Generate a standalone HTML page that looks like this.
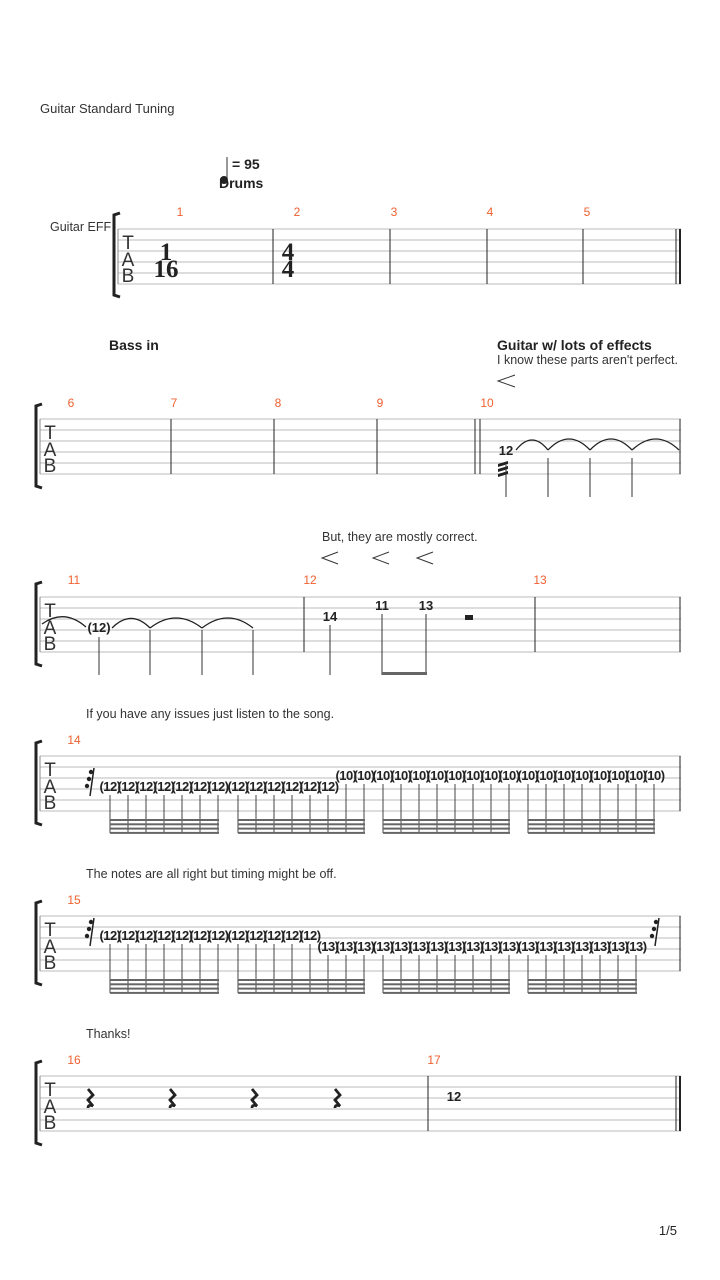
<!DOCTYPE html>
<html><head><meta charset="utf-8"><style>
body{margin:0;background:#fff;}
svg{display:block;font-family:"Liberation Sans",sans-serif;}
.mn{fill:#f06030;font-size:12px;text-anchor:middle}
.tx{fill:#333;font-size:12.5px}
.bd{fill:#222;font-size:14px;font-weight:bold}
.n{fill:#222;font-size:12px;font-weight:bold;text-anchor:middle}
.st line{stroke:#bbb;stroke-width:1}
.bar{stroke:#222;stroke-width:1}
.tab{fill:#333;font-size:19px;text-anchor:middle}
.ts{font-family:'Liberation Serif',serif;font-size:25px;font-weight:bold;text-anchor:middle;fill:#222}
</style></head><body>
<svg width="720" height="1280" viewBox="0 0 720 1280">
<text x="40" y="113" class="tx" style="font-size:13px">Guitar Standard Tuning</text>
<line x1="227" y1="157" x2="227" y2="180" stroke="#333"/>
<circle cx="224" cy="180" r="4" fill="#222"/>
<text x="232" y="169" class="bd">= 95</text>
<text x="219" y="188" class="bd">Drums</text>
<text x="50" y="231" class="tx">Guitar EFF</text>

<!-- System 1 -->
<g class="st"><line x1="118" y1="229" x2="681" y2="229"/><line x1="118" y1="240" x2="681" y2="240"/><line x1="118" y1="251" x2="681" y2="251"/><line x1="118" y1="262" x2="681" y2="262"/><line x1="118" y1="273" x2="681" y2="273"/><line x1="118" y1="284" x2="681" y2="284"/></g>
<path d="M120,213 L114,215 L114,295 L120,297" fill="none" stroke="#222" stroke-width="3"/>
<line x1="118" y1="229" x2="118" y2="284" stroke="#888"/>
<text x="128" y="249" class="tab">T</text><text x="128" y="266" class="tab">A</text><text x="128" y="282" class="tab">B</text>
<text x="166" y="260" class="ts">1</text>
<text x="166" y="277" class="ts">16</text>
<text x="288" y="260" class="ts">4</text>
<text x="288" y="277" class="ts">4</text>
<g class="bar"><line x1="273" y1="229" x2="273" y2="284"/><line x1="390" y1="229" x2="390" y2="284"/><line x1="487" y1="229" x2="487" y2="284"/><line x1="583" y1="229" x2="583" y2="284"/><line x1="676" y1="229" x2="676" y2="284"/><line x1="680" y1="229" x2="680" y2="284" stroke-width="2"/></g>
<text x="180" y="216" class="mn">1</text><text x="297" y="216" class="mn">2</text><text x="394" y="216" class="mn">3</text><text x="490" y="216" class="mn">4</text><text x="587" y="216" class="mn">5</text>

<!-- System 2 -->
<text x="109" y="350" class="bd">Bass in</text>
<text x="497" y="350" class="bd">Guitar w/ lots of effects</text>
<text x="497" y="364" class="tx">I know these parts aren't perfect.</text>
<path d="M515,375 L498,381 L515,387" fill="none" stroke="#333"/>
<g class="st"><line x1="40" y1="419" x2="681" y2="419"/><line x1="40" y1="430" x2="681" y2="430"/><line x1="40" y1="441" x2="681" y2="441"/><line x1="40" y1="452" x2="681" y2="452"/><line x1="40" y1="463" x2="681" y2="463"/><line x1="40" y1="474" x2="681" y2="474"/></g>
<path d="M42,404 L36,406 L36,486 L42,488" fill="none" stroke="#222" stroke-width="3"/>
<line x1="40" y1="419" x2="40" y2="474" stroke="#888"/>
<text x="50" y="439" class="tab">T</text><text x="50" y="456" class="tab">A</text><text x="50" y="472" class="tab">B</text>
<g class="bar"><line x1="171" y1="419" x2="171" y2="474"/><line x1="274" y1="419" x2="274" y2="474"/><line x1="377" y1="419" x2="377" y2="474"/><line x1="475" y1="419" x2="475" y2="474"/><line x1="480" y1="419" x2="480" y2="474"/><line x1="680" y1="419" x2="680" y2="474"/></g>
<text x="71" y="407" class="mn">6</text><text x="174" y="407" class="mn">7</text><text x="278" y="407" class="mn">8</text><text x="380" y="407" class="mn">9</text><text x="487" y="407" class="mn">10</text>
<text x="506" y="455" class="n" style="font-size:13px">12</text>
<path d="M498,464 l10,-3 v3 l-10,3z M498,469 l10,-3 v3 l-10,3z M498,474 l10,-3 v3 l-10,3z" fill="#222"/>
<g stroke="#333"><line x1="506" y1="465" x2="506" y2="497"/><line x1="548" y1="458" x2="548" y2="497"/><line x1="590" y1="458" x2="590" y2="497"/><line x1="632" y1="458" x2="632" y2="497"/></g>
<g fill="none" stroke="#222" stroke-width="1.3"><path d="M516,450 Q532,430 548,450"/><path d="M548,450 Q569,428 590,450"/><path d="M590,450 Q611,428 632,450"/><path d="M632,450 Q656,428 679,450"/></g>

<!-- System 3 -->
<text x="322" y="541" class="tx">But, they are mostly correct.</text>
<g fill="none" stroke="#333"><path d="M338,552 L322,558 L338,564"/><path d="M389,552 L373,558 L389,564"/><path d="M433,552 L417,558 L433,564"/></g>
<g class="st"><line x1="40" y1="597" x2="681" y2="597"/><line x1="40" y1="608" x2="681" y2="608"/><line x1="40" y1="619" x2="681" y2="619"/><line x1="40" y1="630" x2="681" y2="630"/><line x1="40" y1="641" x2="681" y2="641"/><line x1="40" y1="652" x2="681" y2="652"/></g>
<path d="M42,582 L36,584 L36,664 L42,666" fill="none" stroke="#222" stroke-width="3"/>
<line x1="40" y1="597" x2="40" y2="652" stroke="#888"/>
<text x="50" y="617" class="tab">T</text><text x="50" y="634" class="tab">A</text><text x="50" y="650" class="tab">B</text>
<g class="bar"><line x1="304" y1="597" x2="304" y2="652"/><line x1="535" y1="597" x2="535" y2="652"/><line x1="680" y1="597" x2="680" y2="652"/></g>
<text x="74" y="584" class="mn">11</text><text x="310" y="584" class="mn">12</text><text x="540" y="584" class="mn">13</text>
<text x="99" y="632" class="n" style="font-size:13px">(12)</text>
<g stroke="#333"><line x1="99" y1="637" x2="99" y2="675"/><line x1="150" y1="630" x2="150" y2="675"/><line x1="202" y1="630" x2="202" y2="675"/><line x1="253" y1="630" x2="253" y2="675"/></g>
<g fill="none" stroke="#222" stroke-width="1.3"><path d="M42,624 Q64,608 86,627"/><path d="M112,628 Q131,609 150,628"/><path d="M150,628 Q176,608 202,628"/><path d="M202,628 Q228,608 253,628"/></g>
<text x="330" y="621" class="n" style="font-size:13px">14</text>
<text x="382" y="610" class="n" style="font-size:13px">11</text>
<text x="426" y="610" class="n" style="font-size:13px">13</text>
<g stroke="#333"><line x1="330" y1="625" x2="330" y2="675"/><line x1="382" y1="614" x2="382" y2="675"/><line x1="426" y1="614" x2="426" y2="675"/></g>
<rect x="382" y="672" width="45" height="3" fill="#666"/>
<rect x="465" y="615" width="8" height="5" fill="#222"/>

<!-- System 4 -->
<text x="86" y="718" class="tx">If you have any issues just listen to the song.</text>
<g class="st"><line x1="40" y1="756" x2="681" y2="756"/><line x1="40" y1="767" x2="681" y2="767"/><line x1="40" y1="778" x2="681" y2="778"/><line x1="40" y1="789" x2="681" y2="789"/><line x1="40" y1="800" x2="681" y2="800"/><line x1="40" y1="811" x2="681" y2="811"/></g>
<path d="M42,741 L36,743 L36,823 L42,825" fill="none" stroke="#222" stroke-width="3"/>
<line x1="40" y1="756" x2="40" y2="811" stroke="#888"/>
<text x="50" y="776" class="tab">T</text><text x="50" y="793" class="tab">A</text><text x="50" y="809" class="tab">B</text>
<line x1="680" y1="756" x2="680" y2="811" class="bar"/>
<text x="74" y="744" class="mn">14</text>
<path d="M94,768 l-4,28" stroke="#222" stroke-width="1.5"/>
<circle cx="91" cy="772" r="2.2" fill="#222"/><circle cx="89" cy="779" r="2.2" fill="#222"/><circle cx="87" cy="786" r="2.2" fill="#222"/>
<g id="s4"></g>

<!-- System 5 -->
<text x="86" y="878" class="tx">The notes are all right but timing might be off.</text>
<g class="st"><line x1="40" y1="916" x2="681" y2="916"/><line x1="40" y1="927" x2="681" y2="927"/><line x1="40" y1="938" x2="681" y2="938"/><line x1="40" y1="949" x2="681" y2="949"/><line x1="40" y1="960" x2="681" y2="960"/><line x1="40" y1="971" x2="681" y2="971"/></g>
<path d="M42,901 L36,903 L36,983 L42,985" fill="none" stroke="#222" stroke-width="3"/>
<line x1="40" y1="916" x2="40" y2="971" stroke="#888"/>
<text x="50" y="936" class="tab">T</text><text x="50" y="953" class="tab">A</text><text x="50" y="969" class="tab">B</text>
<line x1="680" y1="916" x2="680" y2="971" class="bar"/>
<text x="74" y="904" class="mn">15</text>
<path d="M94,918 l-4,28" stroke="#222" stroke-width="1.5"/>
<circle cx="91" cy="922" r="2.2" fill="#222"/><circle cx="89" cy="929" r="2.2" fill="#222"/><circle cx="87" cy="936" r="2.2" fill="#222"/>
<path d="M659,918 l-4,28" stroke="#222" stroke-width="1.5"/>
<circle cx="656" cy="922" r="2.2" fill="#222"/><circle cx="654" cy="929" r="2.2" fill="#222"/><circle cx="652" cy="936" r="2.2" fill="#222"/>
<g id="s5"></g>

<!-- System 6 -->
<text x="86" y="1038" class="tx">Thanks!</text>
<g class="st"><line x1="40" y1="1076" x2="681" y2="1076"/><line x1="40" y1="1087" x2="681" y2="1087"/><line x1="40" y1="1098" x2="681" y2="1098"/><line x1="40" y1="1109" x2="681" y2="1109"/><line x1="40" y1="1120" x2="681" y2="1120"/><line x1="40" y1="1131" x2="681" y2="1131"/></g>
<path d="M42,1061 L36,1063 L36,1143 L42,1145" fill="none" stroke="#222" stroke-width="3"/>
<line x1="40" y1="1076" x2="40" y2="1131" stroke="#888"/>
<text x="50" y="1096" class="tab">T</text><text x="50" y="1113" class="tab">A</text><text x="50" y="1129" class="tab">B</text>
<g class="bar"><line x1="428" y1="1076" x2="428" y2="1131"/><line x1="676" y1="1076" x2="676" y2="1131"/><line x1="680" y1="1076" x2="680" y2="1131" stroke-width="2"/></g>
<text x="74" y="1064" class="mn">16</text><text x="434" y="1064" class="mn">17</text>
<g fill="none" stroke="#222" stroke-width="2.8"><path d="M88,1089 l5,6 l-5,5 l5,6 q-5,-2 -5,2"/><path d="M170,1089 l5,6 l-5,5 l5,6 q-5,-2 -5,2"/><path d="M252,1089 l5,6 l-5,5 l5,6 q-5,-2 -5,2"/><path d="M335,1089 l5,6 l-5,5 l5,6 q-5,-2 -5,2"/></g>
<text x="454" y="1101" class="n" style="font-size:13px">12</text>

<text x="677" y="1235" style="font-size:13px;text-anchor:end" fill="#222">1/5</text>
</svg>
<script>
function build(gid,groups,noteFor,beamTop){
 var g=document.getElementById(gid),h='';
 groups.forEach(function(gr){
  var xs=[];for(var i=0;i<gr[2];i++)xs.push(gr[0]+i*gr[1]);
  xs.forEach(function(x,idx){var nf=noteFor(x);
   h+='<line x1="'+x+'" y1="'+(nf.y+4)+'" x2="'+x+'" y2="'+(beamTop+14)+'" stroke="#444"/>';
   h+='<text x="'+x+'" y="'+nf.y+'" class="n" style="font-size:13px;letter-spacing:-0.5px">'+nf.t+'</text>';});
  var x0=xs[0],x1=xs[xs.length-1];
  for(var k=0;k<4;k++)h+='<rect x="'+x0+'" y="'+(beamTop+k*4.3)+'" width="'+(x1-x0+1)+'" height="2" fill="#666"/>';
 });
 g.innerHTML=h;
}
build('s4',[[110,18,7],[238,18,8],[383,18,8],[528,18,8]],function(x){return x<=328?{t:'(12)',y:791}:{t:'(10)',y:780};},819);
build('s5',[[110,18,7],[238,18,8],[383,18,8],[528,18,7]],function(x){return x<=310?{t:'(12)',y:940}:{t:'(13)',y:951};},979);
</script>
</body></html>
